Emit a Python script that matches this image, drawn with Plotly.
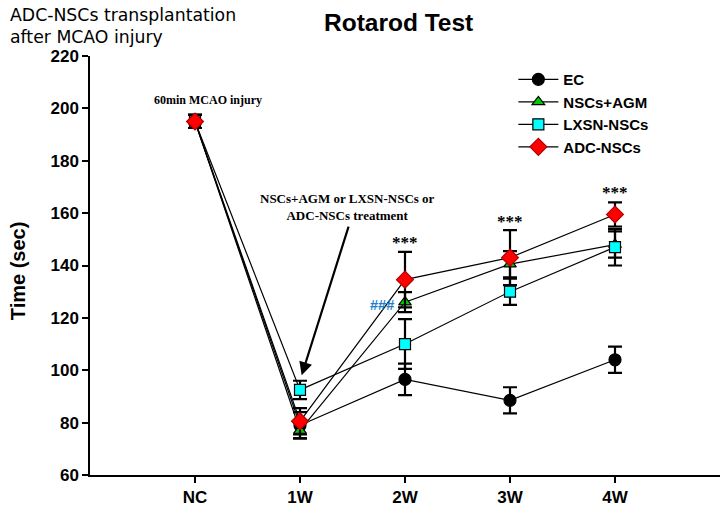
import plotly.graph_objects as go

categories = ["NC", "1W", "2W", "3W", "4W"]
x_pos = [0, 1, 2, 3, 4]

ec_vals = [195, 79, 96.5, 88.5, 104]
ec_err = [2.5, 5, 6, 5, 5]
agm_vals = [195, 77, 126, 140.5, 148]
agm_err = [2.5, 3, 3.8, 5, 5]
lxsn_vals = [195, 92.5, 110, 130, 147]
lxsn_err = [2.5, 3.5, 9.5, 5, 7]
adc_vals = [195, 80.5, 134.6, 143, 159.5]
adc_err = [2.5, 5, 10.6, 10.5, 4.6]

series = [
    ("EC", ec_vals, ec_err, "circle", "black", 12),
    ("NSCs+AGM", agm_vals, agm_err, "triangle-up", "#00CC00", 11),
    ("LXSN-NSCs", lxsn_vals, lxsn_err, "square", "#00FFFF", 11),
    ("ADC-NSCs", adc_vals, adc_err, "diamond", "#FF0000", 13),
]

star_x = [2, 3, 4]
star_y = [148.9, 156.9, 167.9]
hash_x = [1.78]
hash_y = [125]

fig = go.Figure()
for name, vals, err, sym, col, sz in series:
    fig.add_trace(go.Scatter(
        x=x_pos, y=vals, name=name, mode="lines+markers",
        line=dict(color="black", width=1.2),
        marker=dict(symbol=sym, color=col, size=sz,
                    line=dict(color="black" if col != "#FF0000" else "#B00000", width=1.2)),
        error_y=dict(type="data", array=err, visible=True, color="black",
                     thickness=2.2, width=7),
    ))

for sx, sy in zip(star_x, star_y):
    fig.add_annotation(x=sx, y=sy, text="***", showarrow=False,
                       font=dict(family="Liberation Serif, Times New Roman", size=17,
                                 color="black", weight="bold"))
for hx, hy in zip(hash_x, hash_y):
    fig.add_annotation(x=hx, y=hy, text="###", showarrow=False,
                       font=dict(family="Arial", size=14.5, color="#1E7FD0", weight="bold"))

fig.add_annotation(x=0.12, y=203.3, text="60min MCAO injury", showarrow=False,
                   font=dict(family="Liberation Serif, Times New Roman", size=12,
                             color="black", weight="bold"))
fig.add_annotation(x=1.45, y=162.2, text="NSCs+AGM or LXSN-NSCs or<br>ADC-NSCs treatment",
                   showarrow=False,
                   font=dict(family="Liberation Serif, Times New Roman", size=13,
                             color="black", weight="bold"))
fig.add_annotation(x=1.016, y=98.1, ax=1.467, ay=155.4, xref="x", yref="y",
                   axref="x", ayref="y", text="", showarrow=True,
                   arrowhead=2, arrowsize=1.2, arrowwidth=2.2, arrowcolor="black")

fig.add_annotation(x=-0.130, y=(475 - 15) / 419, xref="paper", yref="paper",
                   xanchor="left", yanchor="middle", text="ADC-NSCs transplantation",
                   showarrow=False, align="left",
                   font=dict(family="DejaVu Sans", size=17.3, color="black"))
fig.add_annotation(x=-0.130, y=(475 - 37) / 419, xref="paper", yref="paper",
                   xanchor="left", yanchor="middle", text="after MCAO injury",
                   showarrow=False, align="left",
                   font=dict(family="DejaVu Sans", size=17.3, color="black"))
fig.add_annotation(x=0.489, y=(475 - 22) / 419, xref="paper", yref="paper",
                   xanchor="center", yanchor="middle",
                   text="Rotarod Test", showarrow=False,
                   font=dict(family="Arial", size=24.5, color="black", weight="bold"))
fig.add_annotation(x=-0.114, y=(475 - 271) / 419, xref="paper", yref="paper",
                   xanchor="center", yanchor="middle",
                   text="Time (sec)", showarrow=False, textangle=-90,
                   font=dict(family="Arial", size=20, color="black", weight="bold"))

fig.update_layout(
    width=726, height=512,
    margin=dict(l=90, r=6, t=56, b=37, autoexpand=False),
    paper_bgcolor="white", plot_bgcolor="white",
    showlegend=True,
    legend=dict(x=0.672, y=0.983, xanchor="left", yanchor="top",
                bgcolor="rgba(0,0,0,0)", itemwidth=40, tracegroupgap=0,
                font=dict(family="Arial", size=15, color="black", weight="bold")),
    xaxis=dict(range=[-1, 5], tickmode="array", tickvals=x_pos, ticktext=categories,
               automargin=False,
               showgrid=False, zeroline=False, showline=True, linecolor="black",
               linewidth=1.5, ticks="outside", ticklen=6, tickwidth=1.5,
               tickcolor="black",
               tickfont=dict(family="Arial", size=17, color="black", weight="bold")),
    yaxis=dict(range=[60, 220], tickvals=[60, 80, 100, 120, 140, 160, 180, 200, 220],
               automargin=False,
               showgrid=False, zeroline=False, showline=True, linecolor="black",
               linewidth=1.5, ticks="outside", ticklen=6, tickwidth=1.5,
               tickcolor="black",
               tickfont=dict(family="Arial", size=17, color="black", weight="bold")),
)

fig.write_html("out.html", config={"displayModeBar": False},
               post_script="document.body.style.margin='0';")
